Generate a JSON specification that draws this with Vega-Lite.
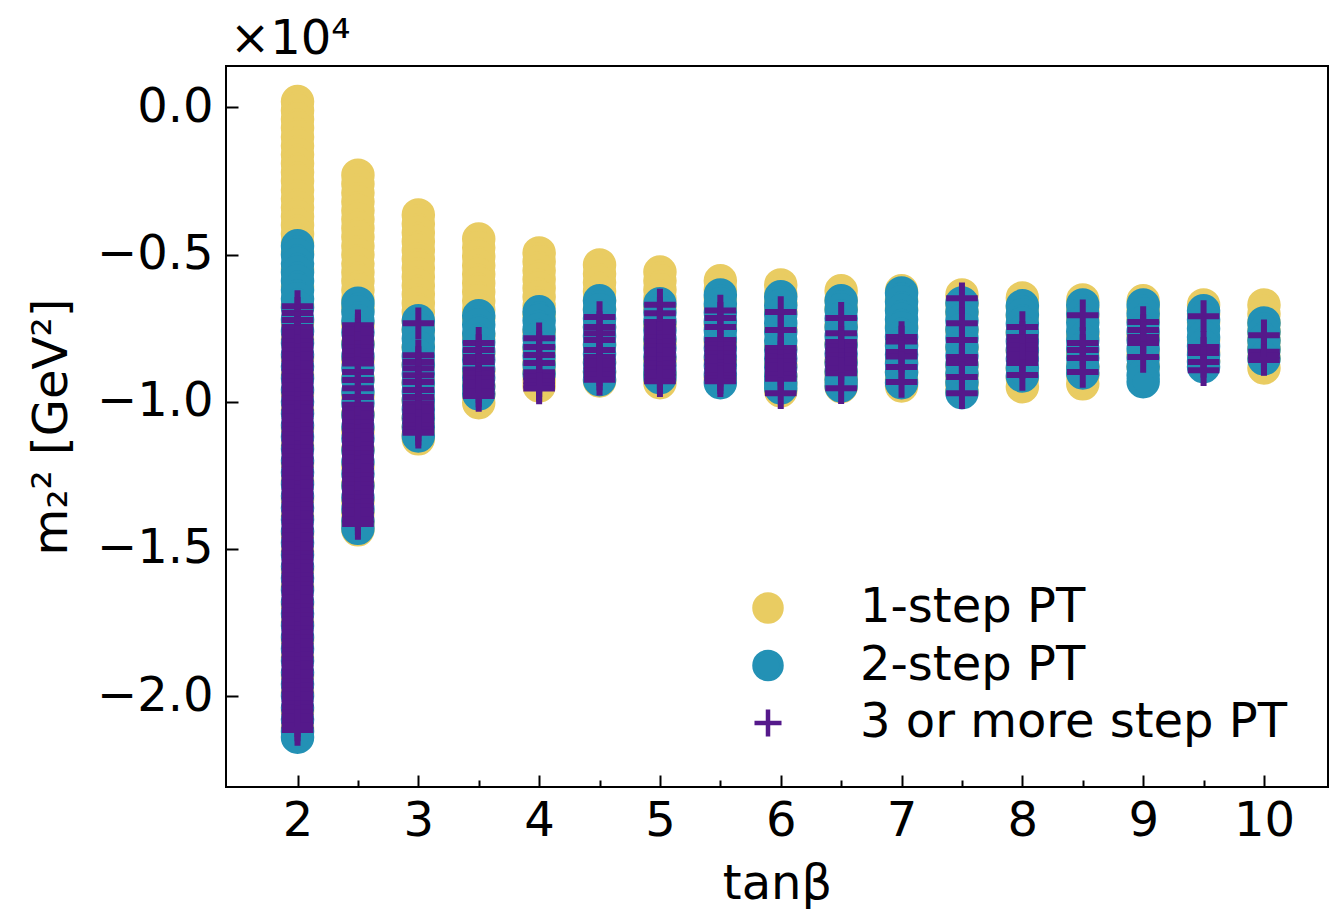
{
"$schema": "https://vega.github.io/schema/vega-lite/v6.json",
"width": 1102, "height": 721,
"autosize": {"type": "none"},
"padding": {"left": 226, "top": 66, "right": 3, "bottom": 124},
"background": "white",
"title": {"text": "×10⁴", "anchor": "start", "frame": "group", "fontSize": 48, "fontWeight": "normal", "font": "DejaVu Sans", "color": "#000", "baseline": "alphabetic", "offset": 11, "dx": 4, "dy": 47},
"config": {
  "view": {"stroke": "#000", "strokeWidth": 2},
  "font": "DejaVu Sans",
  "axis": {"labelFont": "DejaVu Sans", "titleFont": "DejaVu Sans", "labelColor": "#000", "titleColor": "#000", "tickColor": "#000", "tickWidth": 2, "domain": false, "grid": false, "labelFontSize": 48, "titleFontSize": 48, "titleFontWeight": "normal", "labelOverlap": false, "labelFlush": false},
  "legend": {"orient": "bottom-right", "offset": 40, "title": null, "labelFontSize": 48, "labelFont": "DejaVu Sans", "labelColor": "#000", "labelLimit": 700, "symbolSize": 730, "symbolStrokeWidth": 4.5, "rowPadding": 9.5, "labelOffset": 68, "padding": 0}
},
"data": {"values": [
{"tanb":2,"m2":200,"pt":1},{"tanb":2,"m2":-100,"pt":1},{"tanb":2,"m2":-400,"pt":1},{"tanb":2,"m2":-700,"pt":1},{"tanb":2,"m2":-1000,"pt":1},{"tanb":2,"m2":-1300,"pt":1},{"tanb":2,"m2":-1600,"pt":1},{"tanb":2,"m2":-1900,"pt":1},{"tanb":2,"m2":-2200,"pt":1},{"tanb":2,"m2":-2500,"pt":1},{"tanb":2,"m2":-2800,"pt":1},{"tanb":2,"m2":-3100,"pt":1},{"tanb":2,"m2":-3400,"pt":1},{"tanb":2,"m2":-3700,"pt":1},{"tanb":2,"m2":-4000,"pt":1},{"tanb":2,"m2":-4300,"pt":1},{"tanb":2,"m2":-4600,"pt":1},{"tanb":2,"m2":-4900,"pt":1},{"tanb":2,"m2":-5500,"pt":1},{"tanb":2,"m2":-6100,"pt":1},{"tanb":2,"m2":-6700,"pt":1},{"tanb":2,"m2":-7300,"pt":1},{"tanb":2,"m2":-7900,"pt":1},{"tanb":2,"m2":-8500,"pt":1},{"tanb":2,"m2":-9100,"pt":1},{"tanb":2,"m2":-9700,"pt":1},{"tanb":2,"m2":-10300,"pt":1},{"tanb":2,"m2":-10900,"pt":1},{"tanb":2,"m2":-11500,"pt":1},{"tanb":2,"m2":-12100,"pt":1},{"tanb":2,"m2":-12700,"pt":1},{"tanb":2,"m2":-13300,"pt":1},{"tanb":2,"m2":-13900,"pt":1},{"tanb":2,"m2":-14500,"pt":1},{"tanb":2,"m2":-15100,"pt":1},{"tanb":2,"m2":-15700,"pt":1},{"tanb":2,"m2":-16300,"pt":1},{"tanb":2,"m2":-16900,"pt":1},{"tanb":2,"m2":-17500,"pt":1},{"tanb":2,"m2":-18100,"pt":1},{"tanb":2,"m2":-18700,"pt":1},{"tanb":2,"m2":-19300,"pt":1},{"tanb":2,"m2":-19900,"pt":1},{"tanb":2,"m2":-20500,"pt":1},{"tanb":2,"m2":-21100,"pt":1},
{"tanb":2.5,"m2":-2300,"pt":1},{"tanb":2.5,"m2":-2600,"pt":1},{"tanb":2.5,"m2":-2900,"pt":1},{"tanb":2.5,"m2":-3200,"pt":1},{"tanb":2.5,"m2":-3500,"pt":1},{"tanb":2.5,"m2":-3800,"pt":1},{"tanb":2.5,"m2":-4100,"pt":1},{"tanb":2.5,"m2":-4400,"pt":1},{"tanb":2.5,"m2":-4700,"pt":1},{"tanb":2.5,"m2":-5000,"pt":1},{"tanb":2.5,"m2":-5300,"pt":1},{"tanb":2.5,"m2":-5600,"pt":1},{"tanb":2.5,"m2":-5900,"pt":1},{"tanb":2.5,"m2":-6200,"pt":1},{"tanb":2.5,"m2":-6500,"pt":1},{"tanb":2.5,"m2":-6800,"pt":1},{"tanb":2.5,"m2":-7400,"pt":1},{"tanb":2.5,"m2":-8000,"pt":1},{"tanb":2.5,"m2":-8600,"pt":1},{"tanb":2.5,"m2":-9200,"pt":1},{"tanb":2.5,"m2":-9800,"pt":1},{"tanb":2.5,"m2":-10400,"pt":1},{"tanb":2.5,"m2":-11000,"pt":1},{"tanb":2.5,"m2":-11600,"pt":1},{"tanb":2.5,"m2":-12200,"pt":1},{"tanb":2.5,"m2":-12800,"pt":1},{"tanb":2.5,"m2":-13400,"pt":1},{"tanb":2.5,"m2":-13800,"pt":1},{"tanb":2.5,"m2":-14100,"pt":1},{"tanb":2.5,"m2":-14350,"pt":1},
{"tanb":3,"m2":-3650,"pt":1},{"tanb":3,"m2":-3950,"pt":1},{"tanb":3,"m2":-4250,"pt":1},{"tanb":3,"m2":-4550,"pt":1},{"tanb":3,"m2":-4850,"pt":1},{"tanb":3,"m2":-5150,"pt":1},{"tanb":3,"m2":-5450,"pt":1},{"tanb":3,"m2":-5750,"pt":1},{"tanb":3,"m2":-6050,"pt":1},{"tanb":3,"m2":-6350,"pt":1},{"tanb":3,"m2":-6650,"pt":1},{"tanb":3,"m2":-6950,"pt":1},{"tanb":3,"m2":-7250,"pt":1},{"tanb":3,"m2":-7550,"pt":1},{"tanb":3,"m2":-8150,"pt":1},{"tanb":3,"m2":-8750,"pt":1},{"tanb":3,"m2":-9350,"pt":1},{"tanb":3,"m2":-9950,"pt":1},{"tanb":3,"m2":-10550,"pt":1},{"tanb":3,"m2":-10850,"pt":1},{"tanb":3,"m2":-11100,"pt":1},{"tanb":3,"m2":-11260,"pt":1},
{"tanb":3.5,"m2":-4470,"pt":1},{"tanb":3.5,"m2":-4770,"pt":1},{"tanb":3.5,"m2":-5070,"pt":1},{"tanb":3.5,"m2":-5370,"pt":1},{"tanb":3.5,"m2":-5670,"pt":1},{"tanb":3.5,"m2":-5970,"pt":1},{"tanb":3.5,"m2":-6270,"pt":1},{"tanb":3.5,"m2":-6570,"pt":1},{"tanb":3.5,"m2":-6870,"pt":1},{"tanb":3.5,"m2":-7170,"pt":1},{"tanb":3.5,"m2":-7770,"pt":1},{"tanb":3.5,"m2":-8370,"pt":1},{"tanb":3.5,"m2":-8970,"pt":1},{"tanb":3.5,"m2":-9450,"pt":1},{"tanb":3.5,"m2":-9750,"pt":1},{"tanb":3.5,"m2":-10030,"pt":1},
{"tanb":4,"m2":-4940,"pt":1},{"tanb":4,"m2":-5240,"pt":1},{"tanb":4,"m2":-5540,"pt":1},{"tanb":4,"m2":-5840,"pt":1},{"tanb":4,"m2":-6140,"pt":1},{"tanb":4,"m2":-6440,"pt":1},{"tanb":4,"m2":-6740,"pt":1},{"tanb":4,"m2":-7040,"pt":1},{"tanb":4,"m2":-7640,"pt":1},{"tanb":4,"m2":-8240,"pt":1},{"tanb":4,"m2":-8660,"pt":1},{"tanb":4,"m2":-8960,"pt":1},{"tanb":4,"m2":-9260,"pt":1},{"tanb":4,"m2":-9460,"pt":1},
{"tanb":4.5,"m2":-5350,"pt":1},{"tanb":4.5,"m2":-5650,"pt":1},{"tanb":4.5,"m2":-5950,"pt":1},{"tanb":4.5,"m2":-6250,"pt":1},{"tanb":4.5,"m2":-6550,"pt":1},{"tanb":4.5,"m2":-6850,"pt":1},{"tanb":4.5,"m2":-7450,"pt":1},{"tanb":4.5,"m2":-8050,"pt":1},{"tanb":4.5,"m2":-8650,"pt":1},{"tanb":4.5,"m2":-9000,"pt":1},{"tanb":4.5,"m2":-9290,"pt":1},
{"tanb":5,"m2":-5590,"pt":1},{"tanb":5,"m2":-5890,"pt":1},{"tanb":5,"m2":-6190,"pt":1},{"tanb":5,"m2":-6490,"pt":1},{"tanb":5,"m2":-6790,"pt":1},{"tanb":5,"m2":-7390,"pt":1},{"tanb":5,"m2":-7990,"pt":1},{"tanb":5,"m2":-8590,"pt":1},{"tanb":5,"m2":-9050,"pt":1},{"tanb":5,"m2":-9350,"pt":1},
{"tanb":5.5,"m2":-5890,"pt":1},{"tanb":5.5,"m2":-6190,"pt":1},{"tanb":5.5,"m2":-6490,"pt":1},{"tanb":5.5,"m2":-6790,"pt":1},{"tanb":5.5,"m2":-7390,"pt":1},{"tanb":5.5,"m2":-7990,"pt":1},{"tanb":5.5,"m2":-8590,"pt":1},{"tanb":5.5,"m2":-9200,"pt":1},
{"tanb":6,"m2":-6030,"pt":1},{"tanb":6,"m2":-6330,"pt":1},{"tanb":6,"m2":-6630,"pt":1},{"tanb":6,"m2":-6930,"pt":1},{"tanb":6,"m2":-7530,"pt":1},{"tanb":6,"m2":-8130,"pt":1},{"tanb":6,"m2":-8730,"pt":1},{"tanb":6,"m2":-9130,"pt":1},{"tanb":6,"m2":-9400,"pt":1},{"tanb":6,"m2":-9630,"pt":1},
{"tanb":6.5,"m2":-6230,"pt":1},{"tanb":6.5,"m2":-6530,"pt":1},{"tanb":6.5,"m2":-6830,"pt":1},{"tanb":6.5,"m2":-7430,"pt":1},{"tanb":6.5,"m2":-8030,"pt":1},{"tanb":6.5,"m2":-8630,"pt":1},{"tanb":6.5,"m2":-9000,"pt":1},{"tanb":6.5,"m2":-9250,"pt":1},{"tanb":6.5,"m2":-9490,"pt":1},
{"tanb":7,"m2":-6230,"pt":1},{"tanb":7,"m2":-6530,"pt":1},{"tanb":7,"m2":-6830,"pt":1},{"tanb":7,"m2":-7430,"pt":1},{"tanb":7,"m2":-8030,"pt":1},{"tanb":7,"m2":-8630,"pt":1},{"tanb":7,"m2":-9000,"pt":1},{"tanb":7,"m2":-9250,"pt":1},{"tanb":7,"m2":-9460,"pt":1},
{"tanb":7.5,"m2":-6370,"pt":1},{"tanb":7.5,"m2":-6670,"pt":1},{"tanb":7.5,"m2":-6970,"pt":1},{"tanb":7.5,"m2":-7570,"pt":1},{"tanb":7.5,"m2":-8170,"pt":1},{"tanb":7.5,"m2":-8770,"pt":1},{"tanb":7.5,"m2":-9100,"pt":1},{"tanb":7.5,"m2":-9400,"pt":1},{"tanb":7.5,"m2":-9630,"pt":1},
{"tanb":8,"m2":-6470,"pt":1},{"tanb":8,"m2":-6770,"pt":1},{"tanb":8,"m2":-7070,"pt":1},{"tanb":8,"m2":-7670,"pt":1},{"tanb":8,"m2":-8270,"pt":1},{"tanb":8,"m2":-8870,"pt":1},{"tanb":8,"m2":-9190,"pt":1},{"tanb":8,"m2":-9490,"pt":1},
{"tanb":8.5,"m2":-6540,"pt":1},{"tanb":8.5,"m2":-6840,"pt":1},{"tanb":8.5,"m2":-7140,"pt":1},{"tanb":8.5,"m2":-7740,"pt":1},{"tanb":8.5,"m2":-8340,"pt":1},{"tanb":8.5,"m2":-8800,"pt":1},{"tanb":8.5,"m2":-9100,"pt":1},{"tanb":8.5,"m2":-9390,"pt":1},
{"tanb":9,"m2":-6570,"pt":1},{"tanb":9,"m2":-6870,"pt":1},{"tanb":9,"m2":-7170,"pt":1},{"tanb":9,"m2":-7770,"pt":1},{"tanb":9,"m2":-8370,"pt":1},{"tanb":9,"m2":-8800,"pt":1},
{"tanb":9.5,"m2":-6710,"pt":1},{"tanb":9.5,"m2":-7010,"pt":1},{"tanb":9.5,"m2":-7310,"pt":1},{"tanb":9.5,"m2":-7910,"pt":1},{"tanb":9.5,"m2":-8310,"pt":1},{"tanb":9.5,"m2":-8610,"pt":1},
{"tanb":10,"m2":-6710,"pt":1},{"tanb":10,"m2":-7010,"pt":1},{"tanb":10,"m2":-7310,"pt":1},{"tanb":10,"m2":-7610,"pt":1},{"tanb":10,"m2":-7910,"pt":1},{"tanb":10,"m2":-8210,"pt":1},{"tanb":10,"m2":-8510,"pt":1},{"tanb":10,"m2":-8850,"pt":1},
{"tanb":2,"m2":-4700,"pt":2},{"tanb":2,"m2":-5000,"pt":2},{"tanb":2,"m2":-5300,"pt":2},{"tanb":2,"m2":-5600,"pt":2},{"tanb":2,"m2":-5900,"pt":2},{"tanb":2,"m2":-6200,"pt":2},{"tanb":2,"m2":-6500,"pt":2},{"tanb":2,"m2":-6800,"pt":2},{"tanb":2,"m2":-7200,"pt":2},{"tanb":2,"m2":-7600,"pt":2},{"tanb":2,"m2":-8000,"pt":2},{"tanb":2,"m2":-8400,"pt":2},{"tanb":2,"m2":-8800,"pt":2},{"tanb":2,"m2":-9200,"pt":2},{"tanb":2,"m2":-9600,"pt":2},{"tanb":2,"m2":-10000,"pt":2},{"tanb":2,"m2":-10400,"pt":2},{"tanb":2,"m2":-10800,"pt":2},{"tanb":2,"m2":-11200,"pt":2},{"tanb":2,"m2":-11600,"pt":2},{"tanb":2,"m2":-12000,"pt":2},{"tanb":2,"m2":-12400,"pt":2},{"tanb":2,"m2":-12800,"pt":2},{"tanb":2,"m2":-13200,"pt":2},{"tanb":2,"m2":-13600,"pt":2},{"tanb":2,"m2":-14000,"pt":2},{"tanb":2,"m2":-14400,"pt":2},{"tanb":2,"m2":-14800,"pt":2},{"tanb":2,"m2":-15200,"pt":2},{"tanb":2,"m2":-15600,"pt":2},{"tanb":2,"m2":-16000,"pt":2},{"tanb":2,"m2":-16400,"pt":2},{"tanb":2,"m2":-16800,"pt":2},{"tanb":2,"m2":-17200,"pt":2},{"tanb":2,"m2":-17600,"pt":2},{"tanb":2,"m2":-18000,"pt":2},{"tanb":2,"m2":-18400,"pt":2},{"tanb":2,"m2":-18800,"pt":2},{"tanb":2,"m2":-19200,"pt":2},{"tanb":2,"m2":-19600,"pt":2},{"tanb":2,"m2":-20000,"pt":2},{"tanb":2,"m2":-20400,"pt":2},{"tanb":2,"m2":-20800,"pt":2},{"tanb":2,"m2":-21200,"pt":2},{"tanb":2,"m2":-21400,"pt":2},
{"tanb":2.5,"m2":-6650,"pt":2},{"tanb":2.5,"m2":-6950,"pt":2},{"tanb":2.5,"m2":-7250,"pt":2},{"tanb":2.5,"m2":-7650,"pt":2},{"tanb":2.5,"m2":-8050,"pt":2},{"tanb":2.5,"m2":-8450,"pt":2},{"tanb":2.5,"m2":-8850,"pt":2},{"tanb":2.5,"m2":-9250,"pt":2},{"tanb":2.5,"m2":-9650,"pt":2},{"tanb":2.5,"m2":-10050,"pt":2},{"tanb":2.5,"m2":-10450,"pt":2},{"tanb":2.5,"m2":-10850,"pt":2},{"tanb":2.5,"m2":-11250,"pt":2},{"tanb":2.5,"m2":-11650,"pt":2},{"tanb":2.5,"m2":-12050,"pt":2},{"tanb":2.5,"m2":-12450,"pt":2},{"tanb":2.5,"m2":-12850,"pt":2},{"tanb":2.5,"m2":-13250,"pt":2},{"tanb":2.5,"m2":-13650,"pt":2},{"tanb":2.5,"m2":-14050,"pt":2},{"tanb":2.5,"m2":-14300,"pt":2},
{"tanb":3,"m2":-7250,"pt":2},{"tanb":3,"m2":-7550,"pt":2},{"tanb":3,"m2":-7850,"pt":2},{"tanb":3,"m2":-8150,"pt":2},{"tanb":3,"m2":-8450,"pt":2},{"tanb":3,"m2":-8750,"pt":2},{"tanb":3,"m2":-9050,"pt":2},{"tanb":3,"m2":-9350,"pt":2},{"tanb":3,"m2":-9650,"pt":2},{"tanb":3,"m2":-9950,"pt":2},{"tanb":3,"m2":-10250,"pt":2},{"tanb":3,"m2":-10550,"pt":2},{"tanb":3,"m2":-10850,"pt":2},{"tanb":3,"m2":-11160,"pt":2},
{"tanb":3.5,"m2":-7080,"pt":2},{"tanb":3.5,"m2":-7380,"pt":2},{"tanb":3.5,"m2":-7680,"pt":2},{"tanb":3.5,"m2":-7980,"pt":2},{"tanb":3.5,"m2":-8280,"pt":2},{"tanb":3.5,"m2":-8580,"pt":2},{"tanb":3.5,"m2":-8880,"pt":2},{"tanb":3.5,"m2":-9180,"pt":2},{"tanb":3.5,"m2":-9480,"pt":2},{"tanb":3.5,"m2":-9730,"pt":2},
{"tanb":4,"m2":-6940,"pt":2},{"tanb":4,"m2":-7240,"pt":2},{"tanb":4,"m2":-7540,"pt":2},{"tanb":4,"m2":-7840,"pt":2},{"tanb":4,"m2":-8140,"pt":2},{"tanb":4,"m2":-8440,"pt":2},{"tanb":4,"m2":-8740,"pt":2},{"tanb":4,"m2":-9050,"pt":2},
{"tanb":4.5,"m2":-6570,"pt":2},{"tanb":4.5,"m2":-6870,"pt":2},{"tanb":4.5,"m2":-7170,"pt":2},{"tanb":4.5,"m2":-7470,"pt":2},{"tanb":4.5,"m2":-7770,"pt":2},{"tanb":4.5,"m2":-8070,"pt":2},{"tanb":4.5,"m2":-8370,"pt":2},{"tanb":4.5,"m2":-8670,"pt":2},{"tanb":4.5,"m2":-8970,"pt":2},{"tanb":4.5,"m2":-9250,"pt":2},
{"tanb":5,"m2":-6670,"pt":2},{"tanb":5,"m2":-6970,"pt":2},{"tanb":5,"m2":-7270,"pt":2},{"tanb":5,"m2":-7570,"pt":2},{"tanb":5,"m2":-7870,"pt":2},{"tanb":5,"m2":-8170,"pt":2},{"tanb":5,"m2":-8470,"pt":2},{"tanb":5,"m2":-8770,"pt":2},{"tanb":5,"m2":-9000,"pt":2},{"tanb":5,"m2":-9180,"pt":2},
{"tanb":5.5,"m2":-6370,"pt":2},{"tanb":5.5,"m2":-6670,"pt":2},{"tanb":5.5,"m2":-6970,"pt":2},{"tanb":5.5,"m2":-7270,"pt":2},{"tanb":5.5,"m2":-7570,"pt":2},{"tanb":5.5,"m2":-7870,"pt":2},{"tanb":5.5,"m2":-8170,"pt":2},{"tanb":5.5,"m2":-8470,"pt":2},{"tanb":5.5,"m2":-8770,"pt":2},{"tanb":5.5,"m2":-9070,"pt":2},{"tanb":5.5,"m2":-9350,"pt":2},
{"tanb":6,"m2":-6430,"pt":2},{"tanb":6,"m2":-6730,"pt":2},{"tanb":6,"m2":-7030,"pt":2},{"tanb":6,"m2":-7330,"pt":2},{"tanb":6,"m2":-7630,"pt":2},{"tanb":6,"m2":-7930,"pt":2},{"tanb":6,"m2":-8230,"pt":2},{"tanb":6,"m2":-8530,"pt":2},{"tanb":6,"m2":-8830,"pt":2},{"tanb":6,"m2":-9130,"pt":2},{"tanb":6,"m2":-9350,"pt":2},{"tanb":6,"m2":-9530,"pt":2},
{"tanb":6.5,"m2":-6570,"pt":2},{"tanb":6.5,"m2":-6870,"pt":2},{"tanb":6.5,"m2":-7170,"pt":2},{"tanb":6.5,"m2":-7470,"pt":2},{"tanb":6.5,"m2":-7770,"pt":2},{"tanb":6.5,"m2":-8070,"pt":2},{"tanb":6.5,"m2":-8370,"pt":2},{"tanb":6.5,"m2":-8670,"pt":2},{"tanb":6.5,"m2":-8970,"pt":2},{"tanb":6.5,"m2":-9250,"pt":2},{"tanb":6.5,"m2":-9460,"pt":2},
{"tanb":7,"m2":-6300,"pt":2},{"tanb":7,"m2":-6600,"pt":2},{"tanb":7,"m2":-6900,"pt":2},{"tanb":7,"m2":-7200,"pt":2},{"tanb":7,"m2":-7500,"pt":2},{"tanb":7,"m2":-7800,"pt":2},{"tanb":7,"m2":-8100,"pt":2},{"tanb":7,"m2":-8400,"pt":2},{"tanb":7,"m2":-8700,"pt":2},{"tanb":7,"m2":-9000,"pt":2},{"tanb":7,"m2":-9350,"pt":2},
{"tanb":7.5,"m2":-6640,"pt":2},{"tanb":7.5,"m2":-6940,"pt":2},{"tanb":7.5,"m2":-7240,"pt":2},{"tanb":7.5,"m2":-7540,"pt":2},{"tanb":7.5,"m2":-7840,"pt":2},{"tanb":7.5,"m2":-8140,"pt":2},{"tanb":7.5,"m2":-8440,"pt":2},{"tanb":7.5,"m2":-8740,"pt":2},{"tanb":7.5,"m2":-9040,"pt":2},{"tanb":7.5,"m2":-9340,"pt":2},{"tanb":7.5,"m2":-9690,"pt":2},
{"tanb":8,"m2":-6740,"pt":2},{"tanb":8,"m2":-7040,"pt":2},{"tanb":8,"m2":-7340,"pt":2},{"tanb":8,"m2":-7640,"pt":2},{"tanb":8,"m2":-7940,"pt":2},{"tanb":8,"m2":-8240,"pt":2},{"tanb":8,"m2":-8540,"pt":2},{"tanb":8,"m2":-8840,"pt":2},{"tanb":8,"m2":-9120,"pt":2},
{"tanb":8.5,"m2":-6710,"pt":2},{"tanb":8.5,"m2":-7010,"pt":2},{"tanb":8.5,"m2":-7310,"pt":2},{"tanb":8.5,"m2":-7610,"pt":2},{"tanb":8.5,"m2":-7910,"pt":2},{"tanb":8.5,"m2":-8210,"pt":2},{"tanb":8.5,"m2":-8510,"pt":2},{"tanb":8.5,"m2":-8810,"pt":2},{"tanb":8.5,"m2":-9020,"pt":2},
{"tanb":9,"m2":-6710,"pt":2},{"tanb":9,"m2":-7010,"pt":2},{"tanb":9,"m2":-7310,"pt":2},{"tanb":9,"m2":-7610,"pt":2},{"tanb":9,"m2":-7910,"pt":2},{"tanb":9,"m2":-8210,"pt":2},{"tanb":9,"m2":-8510,"pt":2},{"tanb":9,"m2":-8810,"pt":2},{"tanb":9,"m2":-9100,"pt":2},{"tanb":9,"m2":-9320,"pt":2},
{"tanb":9.5,"m2":-6910,"pt":2},{"tanb":9.5,"m2":-7210,"pt":2},{"tanb":9.5,"m2":-7510,"pt":2},{"tanb":9.5,"m2":-7810,"pt":2},{"tanb":9.5,"m2":-8110,"pt":2},{"tanb":9.5,"m2":-8410,"pt":2},{"tanb":9.5,"m2":-8650,"pt":2},{"tanb":9.5,"m2":-8810,"pt":2},
{"tanb":10,"m2":-7320,"pt":2},{"tanb":10,"m2":-7620,"pt":2},{"tanb":10,"m2":-7920,"pt":2},{"tanb":10,"m2":-8220,"pt":2},{"tanb":10,"m2":-8540,"pt":2},
{"tanb":2,"m2":-6750,"pt":3},{"tanb":2,"m2":-6980,"pt":3},{"tanb":2,"m2":-7220,"pt":3},{"tanb":2,"m2":-7460,"pt":3},{"tanb":2,"m2":-7650,"pt":3},{"tanb":2,"m2":-7800,"pt":3},{"tanb":2,"m2":-7950,"pt":3},{"tanb":2,"m2":-8100,"pt":3},{"tanb":2,"m2":-8250,"pt":3},{"tanb":2,"m2":-8400,"pt":3},{"tanb":2,"m2":-8550,"pt":3},{"tanb":2,"m2":-8700,"pt":3},{"tanb":2,"m2":-8850,"pt":3},{"tanb":2,"m2":-9000,"pt":3},{"tanb":2,"m2":-9150,"pt":3},{"tanb":2,"m2":-9300,"pt":3},{"tanb":2,"m2":-9450,"pt":3},{"tanb":2,"m2":-9600,"pt":3},{"tanb":2,"m2":-9750,"pt":3},{"tanb":2,"m2":-9900,"pt":3},{"tanb":2,"m2":-10050,"pt":3},{"tanb":2,"m2":-10200,"pt":3},{"tanb":2,"m2":-10350,"pt":3},{"tanb":2,"m2":-10500,"pt":3},{"tanb":2,"m2":-10650,"pt":3},{"tanb":2,"m2":-10800,"pt":3},{"tanb":2,"m2":-10950,"pt":3},{"tanb":2,"m2":-11100,"pt":3},{"tanb":2,"m2":-11250,"pt":3},{"tanb":2,"m2":-11400,"pt":3},{"tanb":2,"m2":-11550,"pt":3},{"tanb":2,"m2":-11700,"pt":3},{"tanb":2,"m2":-11850,"pt":3},{"tanb":2,"m2":-12000,"pt":3},{"tanb":2,"m2":-12150,"pt":3},{"tanb":2,"m2":-12300,"pt":3},{"tanb":2,"m2":-12450,"pt":3},{"tanb":2,"m2":-12600,"pt":3},{"tanb":2,"m2":-12750,"pt":3},{"tanb":2,"m2":-12900,"pt":3},{"tanb":2,"m2":-13050,"pt":3},{"tanb":2,"m2":-13200,"pt":3},{"tanb":2,"m2":-13350,"pt":3},{"tanb":2,"m2":-13500,"pt":3},{"tanb":2,"m2":-13650,"pt":3},{"tanb":2,"m2":-13800,"pt":3},{"tanb":2,"m2":-13950,"pt":3},{"tanb":2,"m2":-14100,"pt":3},{"tanb":2,"m2":-14250,"pt":3},{"tanb":2,"m2":-14400,"pt":3},{"tanb":2,"m2":-14550,"pt":3},{"tanb":2,"m2":-14700,"pt":3},{"tanb":2,"m2":-14850,"pt":3},{"tanb":2,"m2":-15000,"pt":3},{"tanb":2,"m2":-15150,"pt":3},{"tanb":2,"m2":-15300,"pt":3},{"tanb":2,"m2":-15450,"pt":3},{"tanb":2,"m2":-15600,"pt":3},{"tanb":2,"m2":-15750,"pt":3},{"tanb":2,"m2":-15900,"pt":3},{"tanb":2,"m2":-16050,"pt":3},{"tanb":2,"m2":-16200,"pt":3},{"tanb":2,"m2":-16350,"pt":3},{"tanb":2,"m2":-16500,"pt":3},{"tanb":2,"m2":-16650,"pt":3},{"tanb":2,"m2":-16800,"pt":3},{"tanb":2,"m2":-16950,"pt":3},{"tanb":2,"m2":-17100,"pt":3},{"tanb":2,"m2":-17250,"pt":3},{"tanb":2,"m2":-17400,"pt":3},{"tanb":2,"m2":-17550,"pt":3},{"tanb":2,"m2":-17700,"pt":3},{"tanb":2,"m2":-17850,"pt":3},{"tanb":2,"m2":-18000,"pt":3},{"tanb":2,"m2":-18150,"pt":3},{"tanb":2,"m2":-18300,"pt":3},{"tanb":2,"m2":-18450,"pt":3},{"tanb":2,"m2":-18600,"pt":3},{"tanb":2,"m2":-18750,"pt":3},{"tanb":2,"m2":-18900,"pt":3},{"tanb":2,"m2":-19050,"pt":3},{"tanb":2,"m2":-19200,"pt":3},{"tanb":2,"m2":-19350,"pt":3},{"tanb":2,"m2":-19500,"pt":3},{"tanb":2,"m2":-19650,"pt":3},{"tanb":2,"m2":-19800,"pt":3},{"tanb":2,"m2":-19950,"pt":3},{"tanb":2,"m2":-20100,"pt":3},{"tanb":2,"m2":-20250,"pt":3},{"tanb":2,"m2":-20400,"pt":3},{"tanb":2,"m2":-20550,"pt":3},{"tanb":2,"m2":-20700,"pt":3},{"tanb":2,"m2":-20850,"pt":3},{"tanb":2,"m2":-21000,"pt":3},{"tanb":2,"m2":-21150,"pt":3},
{"tanb":2.5,"m2":-7400,"pt":3},{"tanb":2.5,"m2":-7550,"pt":3},{"tanb":2.5,"m2":-7700,"pt":3},{"tanb":2.5,"m2":-7850,"pt":3},{"tanb":2.5,"m2":-8000,"pt":3},{"tanb":2.5,"m2":-8150,"pt":3},{"tanb":2.5,"m2":-8300,"pt":3},{"tanb":2.5,"m2":-8450,"pt":3},{"tanb":2.5,"m2":-8600,"pt":3},{"tanb":2.5,"m2":-8700,"pt":3},{"tanb":2.5,"m2":-8990,"pt":3},{"tanb":2.5,"m2":-9260,"pt":3},{"tanb":2.5,"m2":-9540,"pt":3},{"tanb":2.5,"m2":-9840,"pt":3},{"tanb":2.5,"m2":-10100,"pt":3},{"tanb":2.5,"m2":-10250,"pt":3},{"tanb":2.5,"m2":-10400,"pt":3},{"tanb":2.5,"m2":-10550,"pt":3},{"tanb":2.5,"m2":-10700,"pt":3},{"tanb":2.5,"m2":-10850,"pt":3},{"tanb":2.5,"m2":-11000,"pt":3},{"tanb":2.5,"m2":-11150,"pt":3},{"tanb":2.5,"m2":-11300,"pt":3},{"tanb":2.5,"m2":-11450,"pt":3},{"tanb":2.5,"m2":-11600,"pt":3},{"tanb":2.5,"m2":-11750,"pt":3},{"tanb":2.5,"m2":-11900,"pt":3},{"tanb":2.5,"m2":-12050,"pt":3},{"tanb":2.5,"m2":-12200,"pt":3},{"tanb":2.5,"m2":-12350,"pt":3},{"tanb":2.5,"m2":-12500,"pt":3},{"tanb":2.5,"m2":-12650,"pt":3},{"tanb":2.5,"m2":-12800,"pt":3},{"tanb":2.5,"m2":-12950,"pt":3},{"tanb":2.5,"m2":-13100,"pt":3},{"tanb":2.5,"m2":-13250,"pt":3},{"tanb":2.5,"m2":-13400,"pt":3},{"tanb":2.5,"m2":-13550,"pt":3},{"tanb":2.5,"m2":-13700,"pt":3},{"tanb":2.5,"m2":-13850,"pt":3},{"tanb":2.5,"m2":-14000,"pt":3},{"tanb":2.5,"m2":-14150,"pt":3},
{"tanb":3,"m2":-7330,"pt":3},{"tanb":3,"m2":-8420,"pt":3},{"tanb":3,"m2":-8650,"pt":3},{"tanb":3,"m2":-8860,"pt":3},{"tanb":3,"m2":-9100,"pt":3},{"tanb":3,"m2":-9330,"pt":3},{"tanb":3,"m2":-9600,"pt":3},{"tanb":3,"m2":-9840,"pt":3},{"tanb":3,"m2":-10050,"pt":3},{"tanb":3,"m2":-10200,"pt":3},{"tanb":3,"m2":-10350,"pt":3},{"tanb":3,"m2":-10500,"pt":3},{"tanb":3,"m2":-10650,"pt":3},{"tanb":3,"m2":-10800,"pt":3},{"tanb":3,"m2":-10950,"pt":3},{"tanb":3,"m2":-11050,"pt":3},
{"tanb":3.5,"m2":-8000,"pt":3},{"tanb":3.5,"m2":-8240,"pt":3},{"tanb":3.5,"m2":-8480,"pt":3},{"tanb":3.5,"m2":-8650,"pt":3},{"tanb":3.5,"m2":-8900,"pt":3},{"tanb":3.5,"m2":-9050,"pt":3},{"tanb":3.5,"m2":-9200,"pt":3},{"tanb":3.5,"m2":-9350,"pt":3},{"tanb":3.5,"m2":-9500,"pt":3},{"tanb":3.5,"m2":-9650,"pt":3},{"tanb":3.5,"m2":-9800,"pt":3},
{"tanb":4,"m2":-7840,"pt":3},{"tanb":4,"m2":-8140,"pt":3},{"tanb":4,"m2":-8410,"pt":3},{"tanb":4,"m2":-8680,"pt":3},{"tanb":4,"m2":-9000,"pt":3},{"tanb":4,"m2":-9150,"pt":3},{"tanb":4,"m2":-9300,"pt":3},{"tanb":4,"m2":-9450,"pt":3},{"tanb":4,"m2":-9550,"pt":3},
{"tanb":4.5,"m2":-7120,"pt":3},{"tanb":4.5,"m2":-7460,"pt":3},{"tanb":4.5,"m2":-7670,"pt":3},{"tanb":4.5,"m2":-7900,"pt":3},{"tanb":4.5,"m2":-8240,"pt":3},{"tanb":4.5,"m2":-8480,"pt":3},{"tanb":4.5,"m2":-8630,"pt":3},{"tanb":4.5,"m2":-8780,"pt":3},{"tanb":4.5,"m2":-8930,"pt":3},{"tanb":4.5,"m2":-9080,"pt":3},{"tanb":4.5,"m2":-9250,"pt":3},
{"tanb":5,"m2":-6700,"pt":3},{"tanb":5,"m2":-6990,"pt":3},{"tanb":5,"m2":-7290,"pt":3},{"tanb":5,"m2":-7460,"pt":3},{"tanb":5,"m2":-7660,"pt":3},{"tanb":5,"m2":-7810,"pt":3},{"tanb":5,"m2":-7960,"pt":3},{"tanb":5,"m2":-8110,"pt":3},{"tanb":5,"m2":-8260,"pt":3},{"tanb":5,"m2":-8410,"pt":3},{"tanb":5,"m2":-8560,"pt":3},{"tanb":5,"m2":-8710,"pt":3},{"tanb":5,"m2":-8860,"pt":3},{"tanb":5,"m2":-9010,"pt":3},{"tanb":5,"m2":-9160,"pt":3},{"tanb":5,"m2":-9300,"pt":3},
{"tanb":5.5,"m2":-6900,"pt":3},{"tanb":5.5,"m2":-7150,"pt":3},{"tanb":5.5,"m2":-7460,"pt":3},{"tanb":5.5,"m2":-7900,"pt":3},{"tanb":5.5,"m2":-8050,"pt":3},{"tanb":5.5,"m2":-8200,"pt":3},{"tanb":5.5,"m2":-8350,"pt":3},{"tanb":5.5,"m2":-8500,"pt":3},{"tanb":5.5,"m2":-8650,"pt":3},{"tanb":5.5,"m2":-8800,"pt":3},{"tanb":5.5,"m2":-8950,"pt":3},{"tanb":5.5,"m2":-9100,"pt":3},{"tanb":5.5,"m2":-9200,"pt":3},{"tanb":5.5,"m2":-9300,"pt":3},
{"tanb":6,"m2":-6950,"pt":3},{"tanb":6,"m2":-7560,"pt":3},{"tanb":6,"m2":-8170,"pt":3},{"tanb":6,"m2":-8320,"pt":3},{"tanb":6,"m2":-8470,"pt":3},{"tanb":6,"m2":-8620,"pt":3},{"tanb":6,"m2":-8770,"pt":3},{"tanb":6,"m2":-8920,"pt":3},{"tanb":6,"m2":-9070,"pt":3},{"tanb":6,"m2":-9220,"pt":3},{"tanb":6,"m2":-9710,"pt":3},
{"tanb":6.5,"m2":-7150,"pt":3},{"tanb":6.5,"m2":-7670,"pt":3},{"tanb":6.5,"m2":-7970,"pt":3},{"tanb":6.5,"m2":-8120,"pt":3},{"tanb":6.5,"m2":-8270,"pt":3},{"tanb":6.5,"m2":-8420,"pt":3},{"tanb":6.5,"m2":-8570,"pt":3},{"tanb":6.5,"m2":-8720,"pt":3},{"tanb":6.5,"m2":-8870,"pt":3},{"tanb":6.5,"m2":-9030,"pt":3},{"tanb":6.5,"m2":-9540,"pt":3},
{"tanb":7,"m2":-7800,"pt":3},{"tanb":7,"m2":-7950,"pt":3},{"tanb":7,"m2":-8310,"pt":3},{"tanb":7,"m2":-8460,"pt":3},{"tanb":7,"m2":-8820,"pt":3},{"tanb":7,"m2":-9330,"pt":3},
{"tanb":7.5,"m2":-6480,"pt":3},{"tanb":7.5,"m2":-7330,"pt":3},{"tanb":7.5,"m2":-7900,"pt":3},{"tanb":7.5,"m2":-8480,"pt":3},{"tanb":7.5,"m2":-8600,"pt":3},{"tanb":7.5,"m2":-8680,"pt":3},{"tanb":7.5,"m2":-9160,"pt":3},{"tanb":7.5,"m2":-9710,"pt":3},
{"tanb":8,"m2":-7460,"pt":3},{"tanb":8,"m2":-7800,"pt":3},{"tanb":8,"m2":-7950,"pt":3},{"tanb":8,"m2":-8100,"pt":3},{"tanb":8,"m2":-8250,"pt":3},{"tanb":8,"m2":-8400,"pt":3},{"tanb":8,"m2":-8550,"pt":3},{"tanb":8,"m2":-8680,"pt":3},{"tanb":8,"m2":-9090,"pt":3},
{"tanb":8.5,"m2":-7060,"pt":3},{"tanb":8.5,"m2":-8000,"pt":3},{"tanb":8.5,"m2":-8240,"pt":3},{"tanb":8.5,"m2":-8510,"pt":3},{"tanb":8.5,"m2":-8990,"pt":3},
{"tanb":9,"m2":-7290,"pt":3},{"tanb":9,"m2":-7560,"pt":3},{"tanb":9,"m2":-7800,"pt":3},{"tanb":9,"m2":-8000,"pt":3},{"tanb":9,"m2":-8480,"pt":3},
{"tanb":9.5,"m2":-7090,"pt":3},{"tanb":9.5,"m2":-8140,"pt":3},{"tanb":9.5,"m2":-8340,"pt":3},{"tanb":9.5,"m2":-8650,"pt":3},{"tanb":9.5,"m2":-8930,"pt":3},
{"tanb":10,"m2":-7740,"pt":3},{"tanb":10,"m2":-8300,"pt":3},{"tanb":10,"m2":-8440,"pt":3},{"tanb":10,"m2":-8580,"pt":3}
]},
"mark": {"type": "point", "filled": true, "strokeWidth": 6, "opacity": 1},
"encoding": {
  "x": {"field": "tanb", "type": "quantitative",
        "scale": {"domain": [1.408, 10.53], "nice": false, "zero": false},
        "axis": {"values": [2,2.5,3,3.5,4,4.5,5,5.5,6,6.5,7,7.5,8,8.5,9,9.5,10],
                 "labelExpr": "datum.value % 1 == 0 ? format(datum.value, 'd') : ''",
                 "tickSize": {"condition": {"test": "datum.value % 1 == 0", "value": -12}, "value": -7},
                 "labelPadding": 22, "title": "tanβ", "titlePadding": 10}},
  "y": {"field": "m2", "type": "quantitative",
        "scale": {"domain": [-23090, 1410], "nice": false, "zero": false},
        "axis": {"values": [0,-5000,-10000,-15000,-20000],
                 "labelExpr": "format(datum.value/10000, '.1f')",
                 "tickSize": -12, "labelPadding": 25, "title": "m₂² [GeV²]", "titlePadding": 20}},
  "fill": {"field": "pt", "type": "nominal",
           "scale": {"domain": [1,2,3], "range": ["#E9CC62", "#2391B5", "#55198B"]},
           "legend": {"labelExpr": "datum.label == '1' ? '1-step PT' : datum.label == '2' ? '2-step PT' : '3 or more step PT'"}},
  "stroke": {"field": "pt", "type": "nominal",
           "scale": {"domain": [1,2,3], "range": ["#E9CC62", "#2391B5", "#55198B"]},
           "legend": {"labelExpr": "datum.label == '1' ? '1-step PT' : datum.label == '2' ? '2-step PT' : '3 or more step PT'"}},
  "shape": {"field": "pt", "type": "nominal",
           "scale": {"domain": [1,2,3], "range": ["circle", "circle", "M-1,0H1M0,-1V1"]},
           "legend": {"labelExpr": "datum.label == '1' ? '1-step PT' : datum.label == '2' ? '2-step PT' : '3 or more step PT'"}},
  "size": {"field": "pt", "type": "quantitative",
           "scale": {"domain": [1,2,3,4], "range": [755,755,1000,1000]}, "legend": null}
}
}
